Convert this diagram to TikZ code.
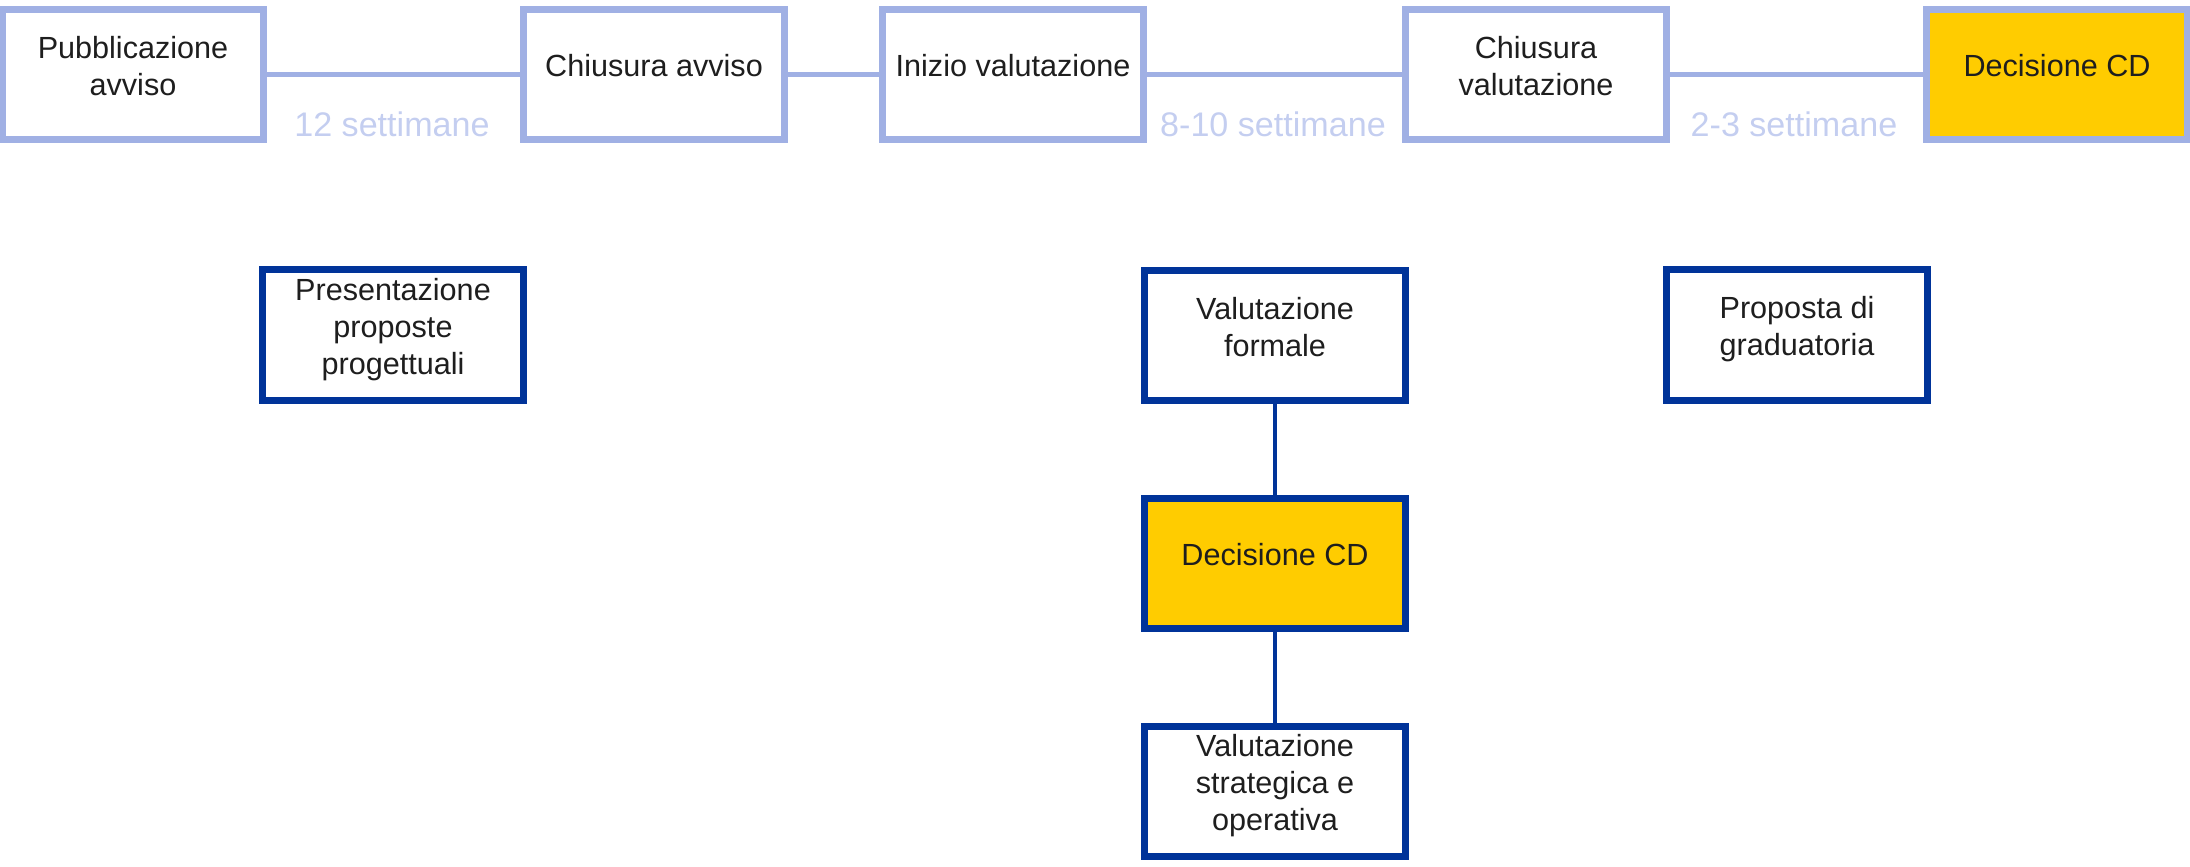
\documentclass[tikz,border=0pt]{standalone}
\usepackage{fontspec}
\setmainfont{Liberation Sans}
\usepackage{tikz}
\definecolor{topblue}{RGB}{160,176,228}
\definecolor{darkblue}{RGB}{0,51,153}
\definecolor{weekblue}{RGB}{196,206,240}
\definecolor{cdyellow}{RGB}{255,204,0}
\definecolor{boxtext}{RGB}{30,30,30}
\newcommand{\boxfont}{\fontsize{8.7}{10.5}\selectfont}
\newcommand{\weekfont}{\fontsize{9.7}{11.6}\selectfont}
\newcommand{\boxlines}[1]{\raisebox{1.5pt}[\height][\depth]{\begin{tabular}{@{}c@{}}#1\end{tabular}}}
\tikzset{
      topbox/.style={draw=topblue, line width=2pt, fill=white,
                  minimum width=2.61cm, minimum height=1.30cm, inner sep=0pt,
                  font=\boxfont, text=boxtext},
      lowbox/.style={topbox, draw=darkblue},
      cdbox/.style={fill=cdyellow},
      weeks/.style={font=\weekfont, text=weekblue},
      topline/.style={draw=topblue, line width=1.3pt},
      lowline/.style={draw=darkblue, line width=1.3pt}
}

\begin{document}
\begin{tikzpicture}[x=0.01cm, y=-0.01cm]
                  \useasboundingbox (0,0) rectangle (2190,867);
                  % top row: phases of the call
                  \node[topbox] (pubavv) at (133, 74.5) {\boxlines{Pubblicazione\\avviso}};
                  \node[topbox] (chiusav) at (654, 74.5) {\boxlines{Chiusura avviso}};
                  \node[topbox] (iniziov) at (1013, 74.5) {\boxlines{Inizio valutazione}};
                  \node[topbox] (chiusv) at (1536, 74.5) {\boxlines{Chiusura\\valutazione}};
                  \node[topbox, cdbox] (cdtop) at (2057, 74.5) {\boxlines{Decisione CD}};
                  \draw[topline] (pubavv) -- (chiusav);
                  \draw[topline] (chiusav) -- (iniziov);
                  \draw[topline] (iniziov) -- (chiusv);
                  \draw[topline] (chiusv) -- (cdtop);
                  \node[weeks] (w12) at (392, 124) {12 settimane};
                  \node[weeks] (w810) at (1273, 124) {8-10 settimane};
                  \node[weeks] (w23) at (1794, 124) {2-3 settimane};

                  % lower row: activities
                  \node[lowbox] (prespp) at (393, 335) {\boxlines{Presentazione\\proposte\\progettuali}};
                  \node[lowbox] (valform) at (1275, 335.5) {\boxlines{Valutazione\\formale}};
                  \node[lowbox, cdbox] (cdlow) at (1275, 563.5) {\boxlines{Decisione CD}};
                  \node[lowbox] (valstrat) at (1275, 791.5) {\boxlines{Valutazione\\strategica e\\operativa}};
                  \node[lowbox] (propgr) at (1797, 335) {\boxlines{Proposta di\\graduatoria}};
                  \draw[lowline] (valform) -- (cdlow);
                  \draw[lowline] (cdlow) -- (valstrat);
\end{tikzpicture}
\end{document}
